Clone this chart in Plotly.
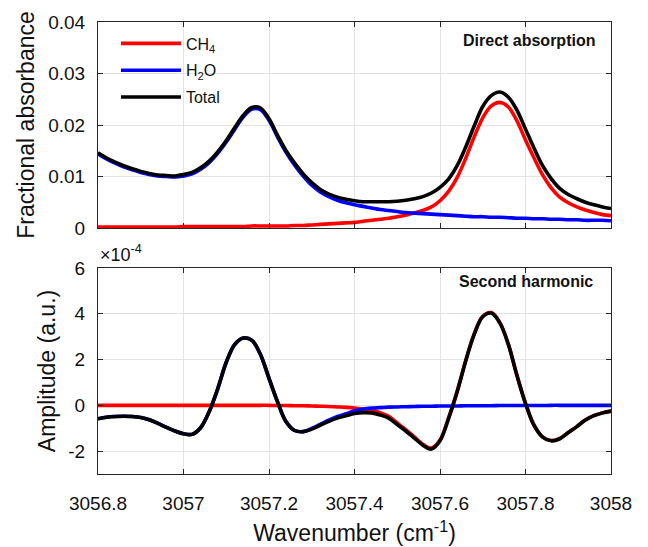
import plotly.graph_objects as go

# Wavenumber grid (cm-1) shared by both panels
wavenumber = [
    3056.80, 3056.82, 3056.84, 3056.86, 3056.88, 3056.90, 3056.92, 3056.94, 3056.96, 3056.98,
    3057.00, 3057.02, 3057.04, 3057.06, 3057.08, 3057.10, 3057.12, 3057.14, 3057.16, 3057.18,
    3057.20, 3057.22, 3057.24, 3057.26, 3057.28, 3057.30, 3057.32, 3057.34, 3057.36, 3057.38,
    3057.40, 3057.42, 3057.44, 3057.46, 3057.48, 3057.50, 3057.52, 3057.54, 3057.56, 3057.58,
    3057.60, 3057.62, 3057.64, 3057.66, 3057.68, 3057.70, 3057.72, 3057.74, 3057.76, 3057.78,
    3057.80, 3057.82, 3057.84, 3057.86, 3057.88, 3057.90, 3057.92, 3057.94, 3057.96, 3057.98,
    3058.00,
]

# Direct absorption: fractional absorbance
da_ch4 = [
    0.0002, 0.0002, 0.0002, 0.0002, 0.0002, 0.0002, 0.0002, 0.0002, 0.0002, 0.0002,
    0.0003, 0.0003, 0.0003, 0.0003, 0.0003, 0.0003, 0.0003, 0.0003, 0.0004, 0.0004,
    0.0004, 0.0004, 0.0004, 0.0005, 0.0005, 0.0006, 0.0007, 0.0008, 0.0009, 0.0010,
    0.0011, 0.0013, 0.0015, 0.0017, 0.0019, 0.0022, 0.0025, 0.0029, 0.0034, 0.0041,
    0.0053, 0.0071, 0.0098, 0.0135, 0.0177, 0.0214, 0.0237, 0.0244, 0.0235, 0.0208,
    0.0171, 0.0136, 0.0103, 0.0078, 0.0060, 0.0049, 0.0041, 0.0035, 0.0030, 0.0026,
    0.0024,
]
da_h2o = [
    0.0144, 0.0134, 0.0126, 0.0119, 0.0113, 0.0108, 0.0104, 0.0101, 0.0100, 0.0099,
    0.0101, 0.0105, 0.0114, 0.0127, 0.0145, 0.0167, 0.0192, 0.0216, 0.0231, 0.0230,
    0.0209, 0.0177, 0.0147, 0.0122, 0.0101, 0.0083, 0.0070, 0.0061, 0.0054, 0.0049,
    0.0045, 0.0042, 0.0039, 0.0036, 0.0034, 0.0032, 0.0030, 0.0029, 0.0028, 0.0027,
    0.0026, 0.0025, 0.0024, 0.0023, 0.0022, 0.0022, 0.0021, 0.0021, 0.0020, 0.0019,
    0.0019, 0.0018, 0.0018, 0.0017, 0.0017, 0.0016, 0.0016, 0.0015, 0.0015, 0.0015,
    0.0014,
]
da_total = [
    0.0146, 0.0136, 0.0128, 0.0121, 0.0115, 0.0110, 0.0106, 0.0103, 0.0102, 0.0101,
    0.0104, 0.0108, 0.0117, 0.0130, 0.0148, 0.0170, 0.0195, 0.0219, 0.0234, 0.0233,
    0.0212, 0.0180, 0.0150, 0.0126, 0.0105, 0.0088, 0.0075, 0.0066, 0.0060, 0.0056,
    0.0053, 0.0051, 0.0051, 0.0051, 0.0051, 0.0052, 0.0054, 0.0057, 0.0061, 0.0068,
    0.0079, 0.0095, 0.0121, 0.0157, 0.0198, 0.0236, 0.0257, 0.0264, 0.0254, 0.0229,
    0.0192, 0.0155, 0.0121, 0.0096, 0.0077, 0.0065, 0.0057, 0.0050, 0.0045, 0.0041,
    0.0038,
]

# Second harmonic amplitude, in units of 1e-4 (a.u.)
wm_ch4 = [
    0.00, 0.00, 0.00, 0.00, 0.00, 0.00, 0.00, 0.00, 0.00, 0.00,
    0.00, 0.00, 0.00, 0.00, 0.00, 0.00, 0.00, 0.00, 0.00, 0.00,
    0.00, -0.01, -0.01, -0.02, -0.02, -0.03, -0.04, -0.05, -0.07, -0.09,
    -0.12, -0.16, -0.21, -0.32, -0.48, -0.77, -1.06, -1.38, -1.70, -1.87,
    -1.52, -0.55, 0.61, 1.95, 3.12, 3.89, 4.05, 3.61, 2.66, 1.31,
    0.09, -0.87, -1.38, -1.54, -1.45, -1.19, -0.93, -0.64, -0.45, -0.33,
    -0.25,
]
wm_h2o = [
    -0.59, -0.52, -0.49, -0.48, -0.49, -0.53, -0.63, -0.79, -0.96, -1.12,
    -1.24, -1.27, -0.98, -0.28, 0.72, 1.88, 2.66, 2.94, 2.84, 2.22,
    1.18, 0.15, -0.72, -1.10, -1.15, -1.01, -0.83, -0.65, -0.49, -0.37,
    -0.24, -0.16, -0.12, -0.10, -0.08, -0.07, -0.06, -0.05, -0.04, -0.04,
    -0.03, -0.03, -0.03, -0.02, -0.02, -0.02, -0.02, -0.01, -0.01, -0.01,
    -0.01, -0.01, -0.01, 0.00, 0.00, 0.00, 0.00, 0.00, 0.00, 0.00,
    0.00,
]
wm_total = [
    -0.59, -0.52, -0.49, -0.48, -0.49, -0.53, -0.63, -0.79, -0.96, -1.12,
    -1.24, -1.27, -0.98, -0.28, 0.72, 1.88, 2.66, 2.94, 2.84, 2.22,
    1.18, 0.15, -0.72, -1.10, -1.15, -1.04, -0.87, -0.70, -0.56, -0.46,
    -0.36, -0.32, -0.33, -0.42, -0.56, -0.84, -1.12, -1.43, -1.74, -1.91,
    -1.55, -0.58, 0.58, 1.93, 3.10, 3.87, 4.03, 3.60, 2.65, 1.30,
    0.08, -0.88, -1.39, -1.55, -1.46, -1.19, -0.93, -0.64, -0.45, -0.33,
    -0.25,
]

series_names = ["CH<sub>4</sub>", "H<sub>2</sub>O", "Total"]
series_colors = ["#ff0000", "#0000ff", "#000000"]

x_tick_vals = [3056.8, 3057.0, 3057.2, 3057.4, 3057.6, 3057.8, 3058.0]
x_tick_text = ["3056.8", "3057", "3057.2", "3057.4", "3057.6", "3057.8", "3058"]
y1_tick_vals = [0, 0.01, 0.02, 0.03, 0.04]
y1_tick_text = ["0", "0.01", "0.02", "0.03", "0.04"]
y2_tick_vals = [-2, 0, 2, 4, 6]
y2_tick_text = ["-2", "0", "2", "4", "6"]

FONT = "Liberation Sans, Arial, sans-serif"
AX = "#262626"
GRID = "#e3e3e3"
LW = 3.6

fig = go.Figure()

for name, color, ys in zip(series_names, series_colors, [da_ch4, da_h2o, da_total]):
    fig.add_trace(go.Scatter(
        x=wavenumber, y=ys, name=name, mode="lines",
        line=dict(color=color, width=LW, shape="spline", smoothing=1.0),
        xaxis="x", yaxis="y", legendgroup=name,
    ))

for name, color, ys in zip(series_names, series_colors, [wm_ch4, wm_h2o, wm_total]):
    fig.add_trace(go.Scatter(
        x=wavenumber, y=ys, name=name, mode="lines", showlegend=False,
        line=dict(color=color, width=LW, shape="spline", smoothing=1.0),
        xaxis="x2", yaxis="y2", legendgroup=name,
    ))

common_axis = dict(
    showline=True, linecolor=AX, linewidth=1, mirror="ticks",
    ticks="inside", ticklen=5, tickcolor=AX, tickwidth=1,
    showgrid=True, gridcolor=GRID, gridwidth=1, zeroline=False,
    tickfont=dict(family=FONT, size=19, color="#111111"),
)

fig.update_layout(
    width=648, height=547,
    margin=dict(l=98, r=37, t=22, b=73, autoexpand=False),
    paper_bgcolor="white", plot_bgcolor="white",
    font=dict(family=FONT, color="#111111"),
    xaxis=dict(common_axis, domain=[0, 1], anchor="y", range=[3056.8, 3058],
               tickvals=x_tick_vals, showticklabels=False, matches="x2"),
    yaxis=dict(common_axis, domain=[0.5442, 1], anchor="x", range=[0, 0.04],
               tickvals=y1_tick_vals, ticktext=y1_tick_text, ticklabelstandoff=8,
               title=dict(text="Fractional absorbance", font=dict(family=FONT, size=23),
                          standoff=7)),
    xaxis2=dict(common_axis, domain=[0, 1], anchor="y2", range=[3056.8, 3058],
                tickvals=x_tick_vals, ticktext=x_tick_text, ticklabelstandoff=12,
                title=dict(text="Wavenumber (cm<sup>-1</sup>)", font=dict(family=FONT, size=23),
                           standoff=12)),
    yaxis2=dict(common_axis, domain=[0, 0.4558], anchor="x2", range=[-3, 6],
                tickvals=y2_tick_vals, ticktext=y2_tick_text, ticklabelstandoff=8,
                title=dict(text="Amplitude (a.u.)", font=dict(family=FONT, size=23),
                           standoff=6)),
    legend=dict(x=0.035, y=0.99, xanchor="left", yanchor="top",
                bgcolor="rgba(0,0,0,0)", borderwidth=0,
                font=dict(family=FONT, size=16, color="#111111"),
                itemwidth=60, tracegroupgap=3),
    showlegend=True,
    annotations=[
        dict(text="<b>Direct absorption</b>", xref="paper", yref="paper",
             x=0.9727, y=0.960, xanchor="right", yanchor="middle", showarrow=False,
             font=dict(family=FONT, size=16, color="#111111")),
        dict(text="<b>Second harmonic</b>", xref="paper", yref="paper",
             x=0.969, y=0.4248, xanchor="right", yanchor="middle", showarrow=False,
             font=dict(family=FONT, size=16, color="#111111")),
        dict(text="\u00d710<sup>-4</sup>", xref="paper", yref="paper",
             x=0.0, y=0.458, xanchor="left", yanchor="bottom", showarrow=False,
             font=dict(family=FONT, size=18, color="#111111")),
    ],
)

fig.write_html("out.html")
